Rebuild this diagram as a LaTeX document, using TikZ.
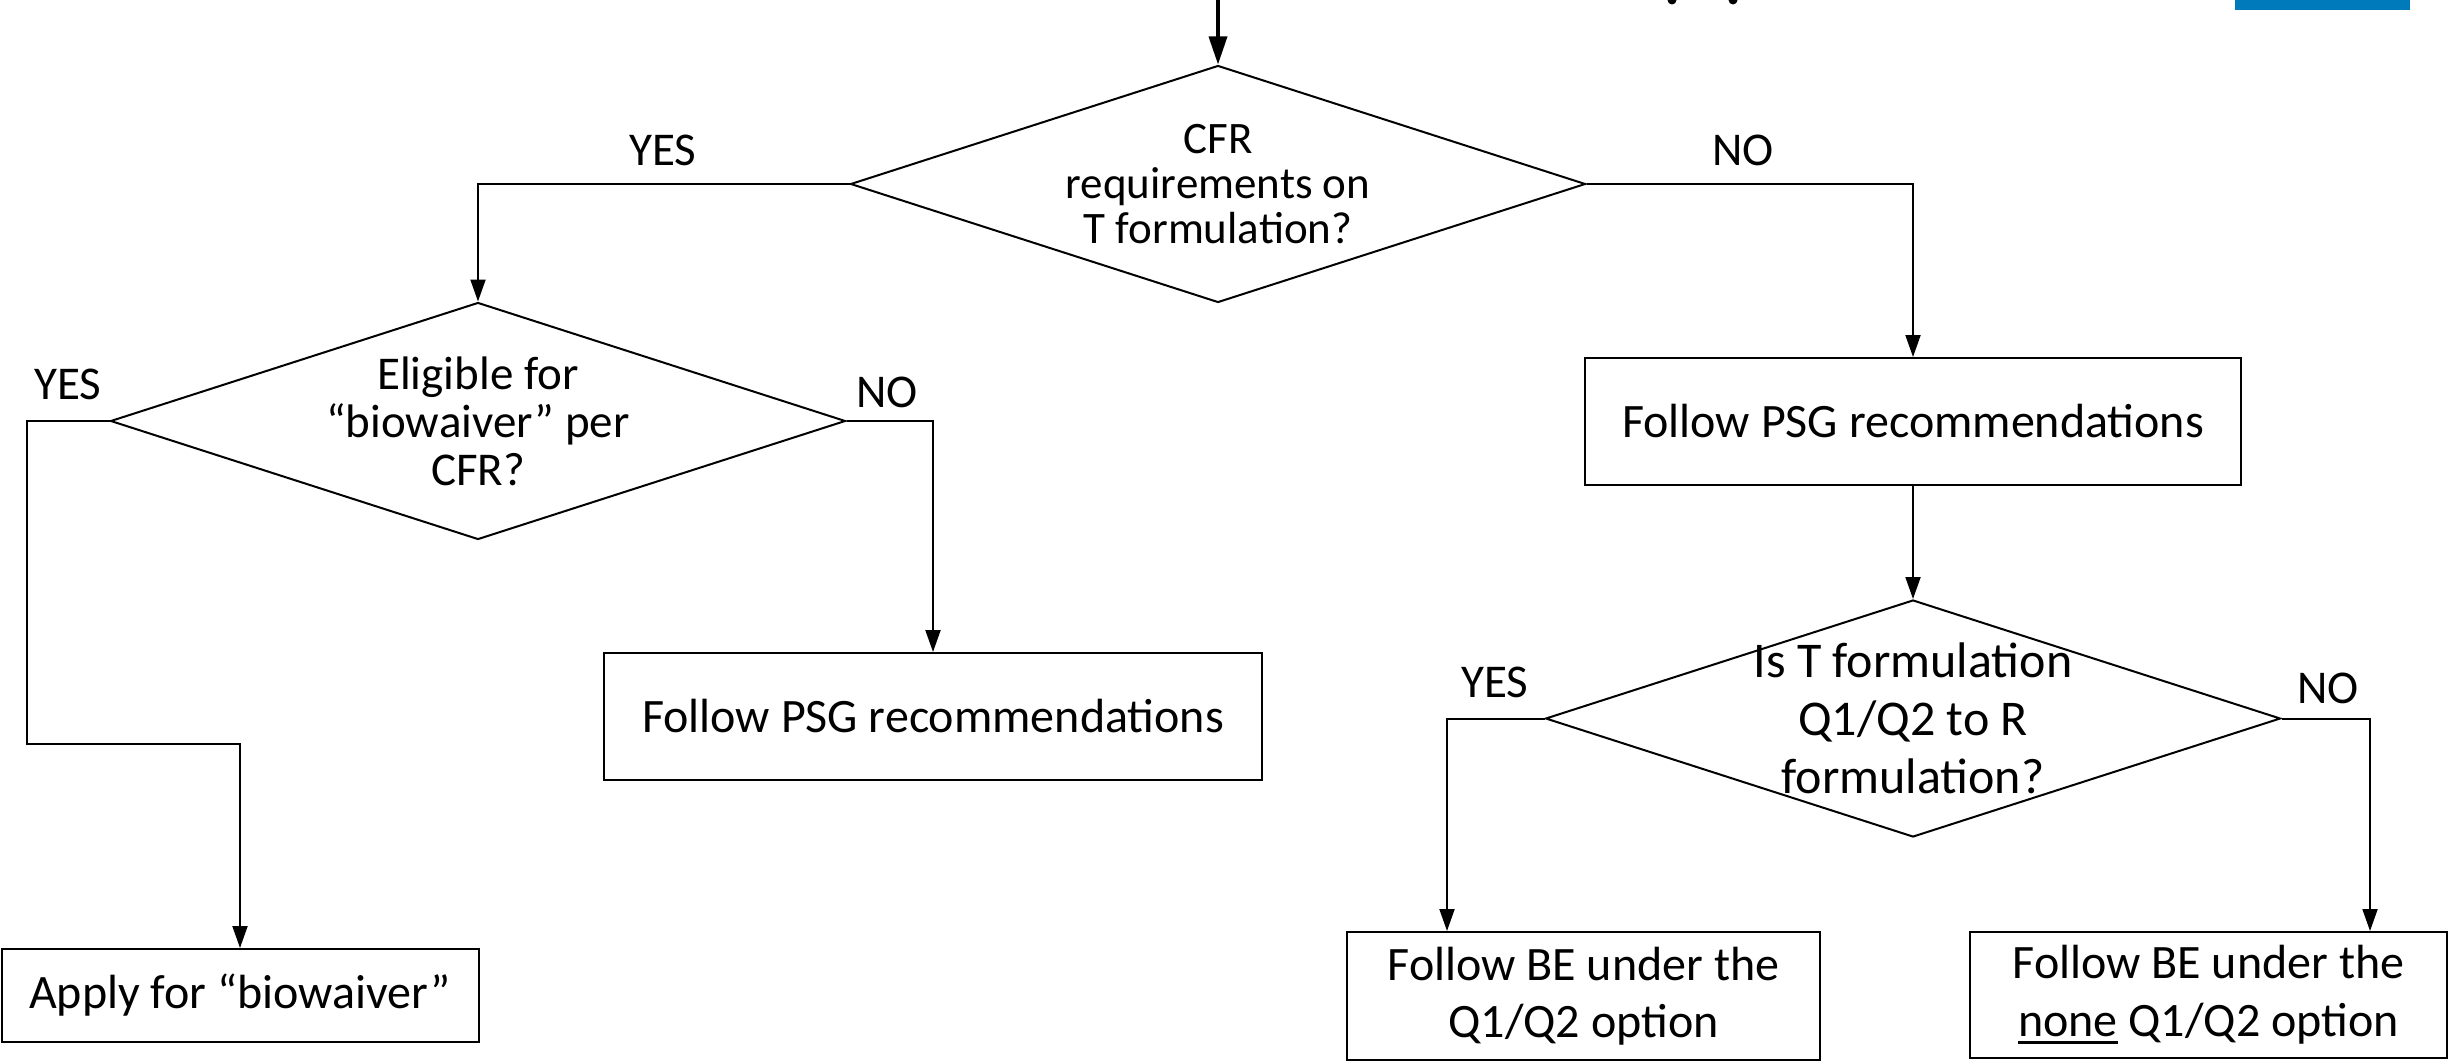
\documentclass[tikz,border=0pt]{standalone}
\usepackage{fontspec}
\setmainfont{Carlito}
\usetikzlibrary{arrows.meta,shapes.geometric,calc}
\definecolor{barblue}{RGB}{0,122,187}
\newcommand\myul[1]{\setbox0\hbox{#1}\rlap{\rule[-8pt]{\wd0}{3pt}}\box0\relax}
\begin{document}
\begin{tikzpicture}[x=1pt,y=-1pt,
  every node/.style={font=\fontsize{48}{57.5}\selectfont},
  dia/.style={draw,diamond,minimum width=735pt,minimum height=237pt,inner sep=0pt,line width=2pt},
  txt/.style={align=center,inner sep=0pt},
  box/.style={draw,rectangle,line width=2pt,inner sep=0pt,align=center},
  conn/.style={line width=2pt,-{Triangle[length=22pt,width=15pt]}},
  toparrow/.style={line width=3.5pt,-{Triangle[length=28pt,width=18pt]}},
  lbl/.style={inner sep=0pt,font=\fontsize{47}{57.5}\selectfont}
]
\useasboundingbox (0,0) rectangle (2451,1062);
% top fragments
\fill[barblue] (2235,0) rectangle (2410,10);
\fill (1672,0) circle[radius=4.5pt];
\fill (1733,0) circle[radius=4.5pt];

% decisions
\node[dia] (d1) at (1218,184) {};
\node[txt,font=\fontsize{45}{45}\selectfont] (t1) at (d1.center) {CFR\\requirements on\\T formulation?};
\node[dia] (d2) at (478,421) {};
\node[txt,font=\fontsize{47}{48}\selectfont] (t2) at (d2.center) {Eligible for\\“biowaiver” per\\CFR?};
\node[dia] (d3) at (1913,718.5) {};
\node[txt,font=\fontsize{50}{58}\selectfont] (t3) at (d3.center) {Is T formulation\\Q1/Q2 to R\\formulation?};

% boxes
\node[box,minimum width=477pt,minimum height=93pt] (apply) at (240,995.5) {Apply for “biowaiver”};
\node[box,minimum width=658pt,minimum height=127pt] (psgL) at (933,716.5) {Follow PSG recommendations};
\node[box,minimum width=656pt,minimum height=127pt] (psgR) at (1913,421.5) {Follow PSG recommendations};
\node[box,minimum width=473pt,minimum height=128pt] (be1) at (1583.5,996) {Follow BE under the\\Q1/Q2 option};
\node[box,minimum width=477pt,minimum height=126pt] (be2) at (2208.5,995) {Follow BE under the\\\myul{none} Q1/Q2 option};

% labels
\node[lbl] (yes1) at (663,150) {YES};
\node[lbl] (no1) at (1743,150) {NO};
\node[lbl] (yes2) at (68,384) {YES};
\node[lbl] (no2) at (887,392) {NO};
\node[lbl] (yes3) at (1495,682) {YES};
\node[lbl] (no3) at (2328,688) {NO};

% connectors
\coordinate (start) at (1218,0);
\draw[toparrow] (start) -- (d1.north);
\draw[conn] (d1.west) -| (d2.north);
\draw[conn] (d1.east) -| (psgR.north);
\draw[conn] (d2.east) -| (psgL.north);
\coordinate (bend) at (27,744);
\draw[conn] (d2.west) -| (bend) -| (apply.north);
\draw[conn] (psgR.south) -- (d3.north);
\draw[conn] (d3.west) -| ($(be1.north west)+(101,0)$);
\draw[conn] (d3.east) -| ($(be2.north west)+(401,0)$);
\end{tikzpicture}
\end{document}
